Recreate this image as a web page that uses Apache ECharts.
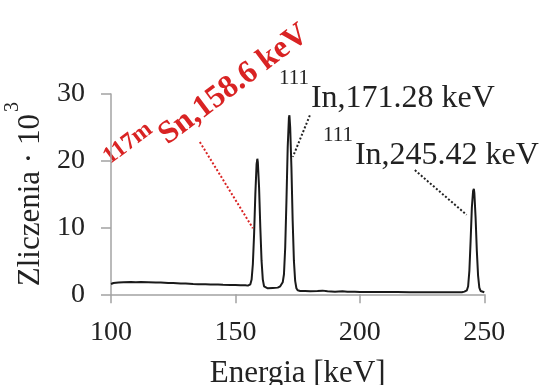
<!DOCTYPE html>
<html>
<head>
<meta charset="utf-8">
<script src="https://cdn.jsdelivr.net/npm/echarts@6/dist/echarts.min.js"></script>
<style>
html,body{margin:0;padding:0;background:#fff;}
#c{width:541px;height:385px;}
</style>
</head>
<body>
<div id="c"></div>
<script>
// Energy (keV) and counts (x 10^3)
var energy = [100,101,103,105,108,110,112,115,118,120,123,125,128,130,133,135,138,140,143,145,148,150,152,154,155,156,156.5,157,157.5,158,158.5,158.8,159,159.5,160,160.5,161,161.5,162,163,165,167,168,169,169.5,170,170.5,171,171.5,171.7,172,172.5,173,173.5,174,174.5,175,176,178,180,183,185,187,190,193,195,198,200,205,210,215,220,225,230,235,238,240,241,242,243,243.5,244,244.5,245,245.5,245.8,246,246.5,247,247.5,248,248.5,249,250];
var counts = [1.55,1.7,1.75,1.8,1.85,1.8,1.85,1.8,1.75,1.75,1.7,1.68,1.6,1.62,1.55,1.52,1.5,1.48,1.45,1.42,1.4,1.38,1.35,1.35,1.3,1.5,2.2,4.5,9,15,19.5,20.3,19.8,16,10,5,2.2,1.2,0.95,0.9,0.95,1.0,1.2,1.8,3,7,14,22,26.5,26.8,25,19,11,5,2,0.9,0.6,0.5,0.5,0.45,0.5,0.55,0.45,0.4,0.45,0.38,0.4,0.36,0.35,0.33,0.33,0.32,0.3,0.3,0.3,0.3,0.32,0.3,0.4,0.6,1.2,3.5,8,13,15.5,15.8,15.2,11.5,6.5,2.8,1,0.5,0.35,0.3];
var xTicks = [100,150,200,250];
var yTicks = [0,10,20,30];
var xName = 'Energia [keV]';
var yNameMain = 'Zliczenia · 10';
var yNameSup = '3';
// leader lines [x1,y1,x2,y2] in data units
var leaderSn = [135.7,22.8,157.0,9.9];
var leaderIn1 = [179.9,26.8,173.1,20.6];
var leaderIn2 = [222.1,18.6,242.9,11.9];

var seriesData = energy.map(function(e,i){return [e,counts[i]];});
var serif = '"Liberation Serif","Times New Roman",serif';
var axisCol = '#a3a3a3';
var red = '#d92323';

var chart = echarts.init(document.getElementById('c'), null, {renderer:'canvas'});
chart.setOption({
  animation:false,
  backgroundColor:'#fff',
  grid:{left:111,right:56.7,top:94,bottom:90.7,containLabel:false,outerBoundsMode:'none'},
  xAxis:{
    type:'value',min:xTicks[0],max:xTicks[xTicks.length-1],interval:50,
    axisLine:{lineStyle:{color:axisCol,width:1.5}},
    axisTick:{show:true,inside:false,length:9,lineStyle:{color:axisCol,width:1.5}},
    splitLine:{show:false},
    axisLabel:{fontFamily:serif,fontSize:28,color:'#222',margin:24},
    name:xName,nameLocation:'middle',nameGap:64,
    nameTextStyle:{fontFamily:serif,fontSize:31,color:'#222'}
  },
  yAxis:{
    type:'value',min:yTicks[0],max:yTicks[yTicks.length-1],interval:10,
    axisLine:{show:true,lineStyle:{color:axisCol,width:1.5}},
    axisTick:{show:true,inside:false,length:10,lineStyle:{color:axisCol,width:1.5}},
    splitLine:{show:false},
    axisLabel:{fontFamily:serif,fontSize:28,color:'#222',margin:26},
    name:'{a|'+yNameMain+'}{b|'+yNameSup+'}',nameLocation:'middle',nameRotate:90,nameGap:32,
    nameTextStyle:{fontFamily:serif,color:'#222',
      rich:{
        a:{fontFamily:serif,fontSize:31,lineHeight:34,color:'#222',verticalAlign:'bottom'},
        b:{fontFamily:serif,fontSize:20,lineHeight:20,color:'#222',verticalAlign:'bottom',padding:[0,0,23,2]}
      }}
  },
  series:[{
    type:'line',data:seriesData,showSymbol:false,
    lineStyle:{color:'#1a1a1a',width:2},
    markLine:{
      silent:true,symbol:['none','none'],label:{show:false},
      data:[
        [{coord:[leaderSn[0],leaderSn[1]],lineStyle:{color:red,type:'dotted',width:2}},{coord:[leaderSn[2],leaderSn[3]]}],
        [{coord:[leaderIn1[0],leaderIn1[1]],lineStyle:{color:'#222',type:'dotted',width:2}},{coord:[leaderIn1[2],leaderIn1[3]]}],
        [{coord:[leaderIn2[0],leaderIn2[1]],lineStyle:{color:'#222',type:'dotted',width:2}},{coord:[leaderIn2[2],leaderIn2[3]]}]
      ]
    }
  }],
  graphic:[
    {type:'text',x:279,y:80.5,style:{
      text:'{s|111}{m|In,171.28 keV}',verticalAlign:'top',align:'left',
      rich:{
        s:{fontFamily:serif,fontSize:21,lineHeight:21,fill:'#222',verticalAlign:'bottom',padding:[0,2,26,0]},
        m:{fontFamily:serif,fontSize:32,lineHeight:34,fill:'#222',verticalAlign:'bottom'}
      }}},
    {type:'text',x:323,y:138,style:{
      text:'{s|111}{m|In,245.42 keV}',verticalAlign:'top',align:'left',
      rich:{
        s:{fontFamily:serif,fontSize:21,lineHeight:21,fill:'#222',verticalAlign:'bottom',padding:[0,2,26,0]},
        m:{fontFamily:serif,fontSize:32,lineHeight:34,fill:'#222',verticalAlign:'bottom'}
      }}},
    {type:'text',x:126,y:186,rotation:37*Math.PI/180,style:{
      text:'{s|117m}{m|Sn,158.6 keV}',verticalAlign:'bottom',align:'left',
      rich:{
        s:{fontFamily:serif,fontSize:24,fontWeight:'bold',lineHeight:24,fill:red,verticalAlign:'bottom',padding:[0,3,21,0]},
        m:{fontFamily:serif,fontSize:32,fontWeight:'bold',lineHeight:34,fill:red,verticalAlign:'bottom'}
      }}}
  ]
});
</script>
</body>
</html>
